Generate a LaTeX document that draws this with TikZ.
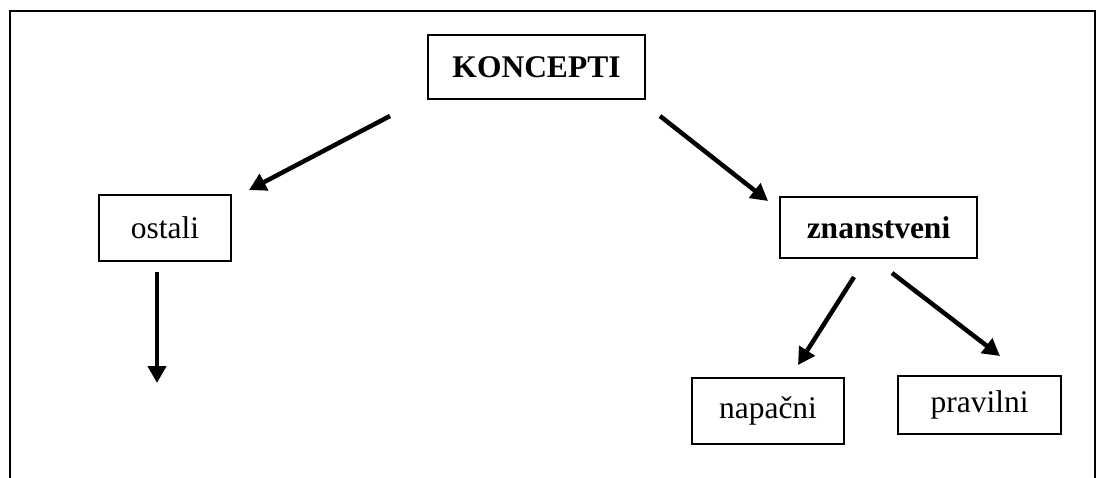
\documentclass[tikz,border=0pt]{standalone}
\usepackage{fontspec}
\setmainfont{Liberation Serif}
\usetikzlibrary{arrows.meta}

\begin{document}
\begin{tikzpicture}[x=1pt,y=-1pt,
		box/.style={draw,line width=1.5pt,inner sep=0pt,font=\fontsize{31.5}{36}\selectfont},
		arr/.style={line width=4.5pt,-{Triangle[length=17pt,width=18pt]}}]
			\useasboundingbox (0,0) rectangle (1099,478);
			\draw[line width=2.5pt] (10,478) -- (10,11) -- (1095,11) -- (1095,478);
			\node[box,minimum width=217pt,minimum height=64pt] (koncepti) at (536.5,67) {\textbf{KONCEPTI}};
			\node[box,minimum width=132pt,minimum height=66pt] (ostali) at (165,228) {ostali};
			\node[box,minimum width=197pt,minimum height=61pt] (znanstveni) at (878.5,227.5) {\textbf{znanstveni}};
			\node[box,minimum width=152pt,minimum height=66pt] (napacni) at (768,411) {napačni};
			\node[box,minimum width=163pt,minimum height=58pt] (pravilni) at (979.5,405) {pravilni};
			% arrow ends
			\coordinate (k1) at (390,116);
			\coordinate (o1) at (249,190);
			\coordinate (k2) at (660,116);
			\coordinate (z1) at (768,201);
			\coordinate (o2) at (157,272);
			\coordinate (o3) at (157,383);
			\coordinate (z2) at (854,277);
			\coordinate (n1) at (798,365);
			\coordinate (z3) at (892,273);
			\coordinate (p1) at (1000,356);
			\draw[arr] (k1) -- (o1);
			\draw[arr] (k2) -- (z1);
			\draw[arr] (o2) -- (o3);
			\draw[arr] (z2) -- (n1);
			\draw[arr] (z3) -- (p1);
		\end{tikzpicture}
\end{document}
